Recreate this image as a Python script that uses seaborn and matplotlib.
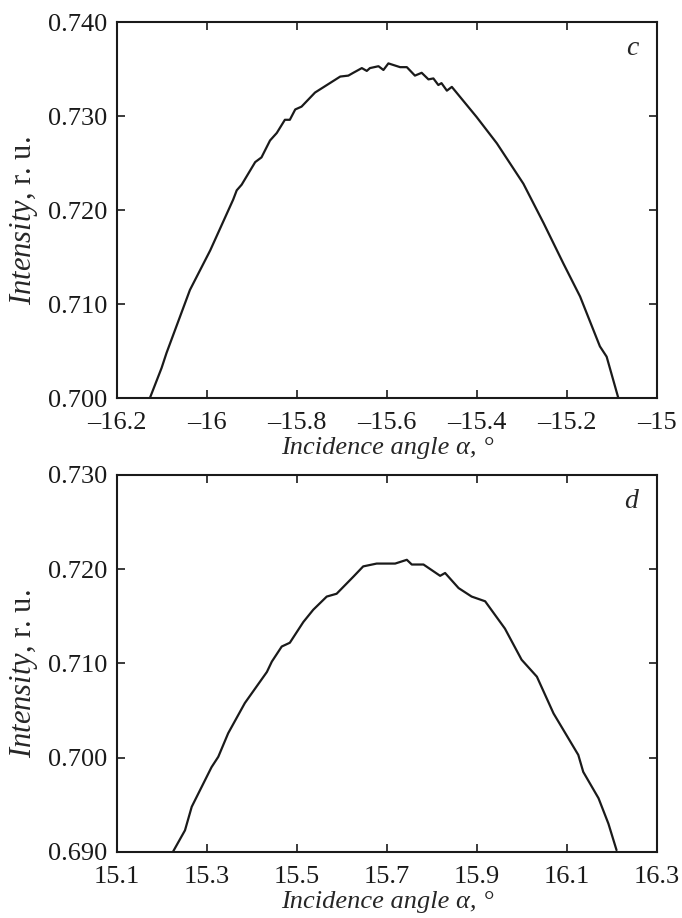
import matplotlib
matplotlib.use('Agg')
import matplotlib.pyplot as plt
import seaborn as sns
import pandas as pd

# Panel c: negative incidence angles
angle_c = [-16.127, -16.101, -16.090, -16.038, -15.993, -15.942, -15.934, -15.923,
           -15.893, -15.879, -15.860, -15.845, -15.827, -15.816, -15.804, -15.790,
           -15.760, -15.704, -15.686, -15.675, -15.656, -15.645, -15.638, -15.619,
           -15.608, -15.597, -15.571, -15.556, -15.538, -15.523, -15.508, -15.497,
           -15.486, -15.479, -15.467, -15.456, -15.401, -15.356, -15.297, -15.252,
           -15.208, -15.171, -15.127, -15.112, -15.086]
intensity_c = [0.7000, 0.7032, 0.7048, 0.7115, 0.7157, 0.7211, 0.7221, 0.7227,
               0.7251, 0.7256, 0.7274, 0.7282, 0.7296, 0.7296, 0.7307, 0.7310,
               0.7325, 0.7342, 0.7343, 0.7346, 0.7351, 0.7348, 0.7351, 0.7353,
               0.7349, 0.7356, 0.7352, 0.7352, 0.7343, 0.7346, 0.7339, 0.7340,
               0.7333, 0.7335, 0.7327, 0.7331, 0.7299, 0.7271, 0.7228, 0.7186,
               0.7143, 0.7108, 0.7055, 0.7044, 0.7000]

# Panel d: positive incidence angles
angle_d = [15.224, 15.251, 15.266, 15.310, 15.325, 15.347, 15.384, 15.433, 15.444,
           15.466, 15.484, 15.514, 15.536, 15.566, 15.588, 15.625, 15.647, 15.677,
           15.718, 15.744, 15.755, 15.781, 15.818, 15.829, 15.859, 15.888, 15.918,
           15.962, 15.999, 16.033, 16.070, 16.125, 16.136, 16.170, 16.192, 16.210]
intensity_d = [0.6900, 0.6923, 0.6948, 0.6990, 0.7001, 0.7026, 0.7058, 0.7091, 0.7102,
               0.7118, 0.7122, 0.7144, 0.7157, 0.7171, 0.7174, 0.7192, 0.7203, 0.7206,
               0.7206, 0.7210, 0.7205, 0.7205, 0.7193, 0.7196, 0.7180, 0.7171, 0.7166,
               0.7137, 0.7104, 0.7086, 0.7047, 0.7003, 0.6985, 0.6957, 0.6930, 0.6902]

xticks_c = [-16.2, -16.0, -15.8, -15.6, -15.4, -15.2, -15.0]
xticklabels_c = ['\u201316.2', '\u201316', '\u201315.8', '\u201315.6', '\u201315.4', '\u201315.2', '\u201315']
yticks_c = [0.700, 0.710, 0.720, 0.730, 0.740]

xticks_d = [15.1, 15.3, 15.5, 15.7, 15.9, 16.1, 16.3]
xticklabels_d = ['15.1', '15.3', '15.5', '15.7', '15.9', '16.1', '16.3']
yticks_d = [0.690, 0.700, 0.710, 0.720, 0.730]

sns.set_style('ticks')
plt.rcParams['font.family'] = ['Liberation Serif', 'DejaVu Serif']
plt.rcParams['mathtext.fontset'] = 'custom'
plt.rcParams['mathtext.rm'] = 'Liberation Serif'
plt.rcParams['mathtext.it'] = 'Liberation Serif:italic'

fig = plt.figure(figsize=(6.82, 9.18), dpi=100)
ax1 = fig.add_axes([0.1716, 0.5664, 0.7918, 0.4096])
ax2 = fig.add_axes([0.1716, 0.0719, 0.7918, 0.4107])

panels = [
    (ax1, angle_c, intensity_c, xticks_c, xticklabels_c, yticks_c, 'c'),
    (ax2, angle_d, intensity_d, xticks_d, xticklabels_d, yticks_d, 'd'),
]

for ax, xs, ys, xt, xtl, yt, tag in panels:
    df = pd.DataFrame({'angle': xs, 'intensity': ys})
    sns.lineplot(data=df, x='angle', y='intensity', ax=ax, color='#1a1a1a',
                 linewidth=1.6, sort=False)
    ax.set_xlim(xt[0], xt[-1])
    ax.set_ylim(yt[0], yt[-1])
    ax.set_xticks(xt)
    ax.set_xticklabels(xtl)
    ax.set_yticks(yt)
    ax.set_yticklabels(['%.3f' % v for v in yt])
    ax.tick_params(direction='in', length=6, width=1.2, top=True, right=True,
                   labelsize=19, colors='#1a1a1a')
    ax.tick_params(axis='y', pad=7)
    ax.tick_params(axis='x', pad=10)
    for sp in ax.spines.values():
        sp.set_linewidth(1.5)
        sp.set_color('#1a1a1a')
    ax.set_xlabel('Incidence angle \u03b1, \u00b0', fontstyle='italic', fontsize=19, labelpad=2)
    ax.set_ylabel(r'$\mathit{Intensity}$, r. u.', fontsize=22, labelpad=6)
    ax.yaxis.label.set_y(0.473)
    ax.text(0.965, 0.93, tag, transform=ax.transAxes, fontstyle='italic',
            fontsize=20, ha='right', va='center')

fig.savefig('out.png', dpi=100)
